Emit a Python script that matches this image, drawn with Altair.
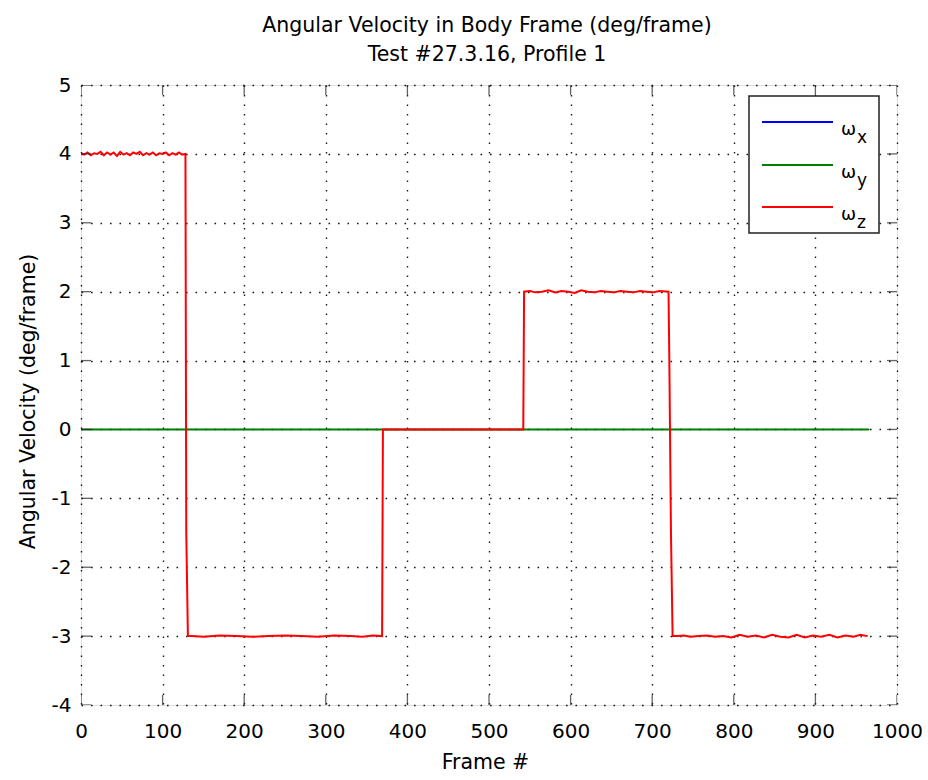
import altair as alt
import pandas as pd

# ---- data ----
series_names = ["ωx", "ωy", "ωz"]
series_colors = ["#0000ff", "#008000", "#ff0000"]

flat_frame = [0, 966]
blue_value = [0.0, 0.0]
green_value = [0.0, 0.0]

red_frame = [
    0, 4, 8, 12, 16, 20, 24, 28, 32, 36, 40, 44, 48, 52, 56, 60, 64, 68, 72, 76,
    80, 84, 88, 92, 96, 100, 104, 108, 112, 116, 120, 124, 128,
    129, 131,
    136, 150, 170, 190, 210, 230, 250, 270, 290, 310, 330, 345, 358, 369,
    370, 542,
    543, 550, 557, 565, 573, 581, 589, 597, 605, 613, 621, 629, 637, 645, 653,
    661, 669, 677, 685, 693, 701, 709, 720,
    721, 723, 725,
    731, 739, 747, 757, 767, 777, 787, 797, 807, 817, 827, 837, 847, 857, 867,
    877, 887, 897, 907, 917, 927, 937, 947, 955, 964,
]
red_value = [
    4.01, 3.99, 4.02, 3.98, 4.01, 4.00, 4.03, 3.98, 4.02, 3.99, 4.02, 3.97, 4.03, 3.99, 4.01, 3.98,
    4.02, 4.00, 4.03, 3.98, 4.01, 3.99, 4.02, 3.98, 4.01, 4.00, 4.02, 3.98, 4.01, 3.99, 4.02, 3.99, 4.00,
    -1.5, -3.0,
    -3.0, -3.01, -2.99, -3.0, -3.01, -3.0, -2.99, -3.0, -3.01, -2.99, -3.0, -3.01, -2.99, -3.0,
    0.0, 0.0,
    2.0, 2.01, 1.99, 2.0, 2.02, 1.99, 2.01, 2.0, 1.98, 2.02, 2.0, 1.99, 2.01, 2.0, 1.99,
    2.01, 2.0, 1.99, 2.01, 2.0, 1.99, 2.01, 2.0,
    1.0, -1.5, -3.0,
    -3.0, -2.99, -3.01, -3.0, -2.99, -3.01, -3.0, -3.02, -2.98, -3.01, -2.99, -3.02, -2.98, -3.01, -3.02,
    -2.98, -3.02, -2.99, -3.01, -2.98, -3.02, -2.99, -3.01, -2.98, -3.0,
]

x_ticks = [0, 100, 200, 300, 400, 500, 600, 700, 800, 900, 1000]
y_ticks = [-4, -3, -2, -1, 0, 1, 2, 3, 4, 5]

title_lines = ["Angular Velocity in Body Frame (deg/frame)", "Test #27.3.16, Profile 1"]
x_title = "Frame #"
y_title = "Angular Velocity (deg/frame)"

FONT = "DejaVu Sans"
FS = 20.5
TFS = 20

blue_df = pd.DataFrame({"frame": flat_frame, "value": blue_value, "series": series_names[0]})
green_df = pd.DataFrame({"frame": flat_frame, "value": green_value, "series": series_names[1]})
red_df = pd.DataFrame({"frame": red_frame, "value": red_value, "series": series_names[2]})
xt_df = pd.DataFrame({"frame": x_ticks})
yt_df = pd.DataFrame({"value": y_ticks})
one = pd.DataFrame({"k": [0]})

grid_kw = dict(grid=True, gridDash=[1.6, 7.9], gridColor="#000000", gridOpacity=0.9, gridWidth=1.4)

x_enc = alt.X(
    "frame:Q",
    scale=alt.Scale(domain=[0, 1000], nice=False, zero=False),
    axis=alt.Axis(
        values=x_ticks, title=x_title, labelExpr="'' + datum.value", labelFont=FONT, labelFontSize=TFS,
        labelColor="black", ticks=False, tickSize=0, domain=False, labelPadding=16,
        labelFlush=False, titleFont=FONT, titleFontSize=FS, titleFontWeight="normal",
        titleColor="black", titleBaseline="alphabetic", titleY=63, titleX=404, **grid_kw,
    ),
)
y_enc = alt.Y(
    "value:Q",
    scale=alt.Scale(domain=[-4, 5], nice=False, zero=False),
    axis=alt.Axis(
        values=y_ticks, title=y_title, labelExpr="'' + datum.value", labelFont=FONT, labelFontSize=TFS,
        labelColor="black", ticks=False, tickSize=0, domain=False, labelPadding=10,
        labelFlush=False, titleFont=FONT, titleFontSize=FS, titleFontWeight="normal",
        titleColor="black", titleBaseline="alphabetic", titleX=-47, titleY=316, titleAngle=270,
        **grid_kw,
    ),
)

color_scale = alt.Scale(domain=series_names, range=series_colors)


def series_layer(df, w):
    return alt.Chart(df).mark_line(strokeWidth=w, clip=True).encode(
        x=x_enc, y=y_enc, color=alt.Color("series:N", scale=color_scale, legend=None)
    )


layers = [series_layer(blue_df, 1.0), series_layer(green_df, 2.0), series_layer(red_df, 2.0)]

# inner ticks on all four sides
tick_kw = dict(size=20, thickness=1.3, color="#222222", clip=True)
layers.append(alt.Chart(xt_df).mark_tick(orient="vertical", **tick_kw).encode(x="frame:Q", y=alt.datum(-4)))
layers.append(alt.Chart(xt_df).mark_tick(orient="vertical", **tick_kw).encode(x="frame:Q", y=alt.datum(5)))
layers.append(alt.Chart(yt_df).mark_tick(orient="horizontal", **tick_kw).encode(y="value:Q", x=alt.datum(0)))
layers.append(alt.Chart(yt_df).mark_tick(orient="horizontal", **tick_kw).encode(y="value:Q", x=alt.datum(1000)))

# legend box (MATLAB style)
layers.append(
    alt.Chart(one).mark_rect(fill="white", stroke="#222222", strokeWidth=1.5).encode(
        x=alt.value(668), x2=alt.value(798), y=alt.value(11), y2=alt.value(148)
    )
)
legend_rows = [37, 80, 122]
subs = ["x", "y", "z"]
for i in range(3):
    ly = legend_rows[i]
    layers.append(
        alt.Chart(one).mark_rule(color=series_colors[i], strokeWidth=1.8).encode(
            x=alt.value(681), x2=alt.value(752), y=alt.value(ly)
        )
    )
    layers.append(
        alt.Chart(one).mark_text(text="ω", font=FONT, fontSize=18, align="left",
                                 baseline="alphabetic", color="black").encode(
            x=alt.value(760), y=alt.value(ly + 13)
        )
    )
    layers.append(
        alt.Chart(one).mark_text(text=subs[i], font=FONT, fontSize=17, align="left",
                                 baseline="alphabetic", color="black").encode(
            x=alt.value(776), y=alt.value(ly + 21)
        )
    )

chart = alt.layer(*layers).properties(
    width=816,
    height=620,
    title=alt.TitleParams(
        text=title_lines, font=FONT, fontSize=FS, fontWeight="normal", color="black",
        anchor="middle", lineHeight=28.5, baseline="alphabetic", offset=21, dx=-2, dy=27,
    ),
    autosize=alt.AutoSizeParams(type="none"),
    padding={"left": 81, "top": 85, "right": 31, "bottom": 75},
).configure_view(stroke="#222222", strokeWidth=1.5).configure(background="white")

chart.save("out.html", embed_options={"renderer": "svg", "actions": False})
